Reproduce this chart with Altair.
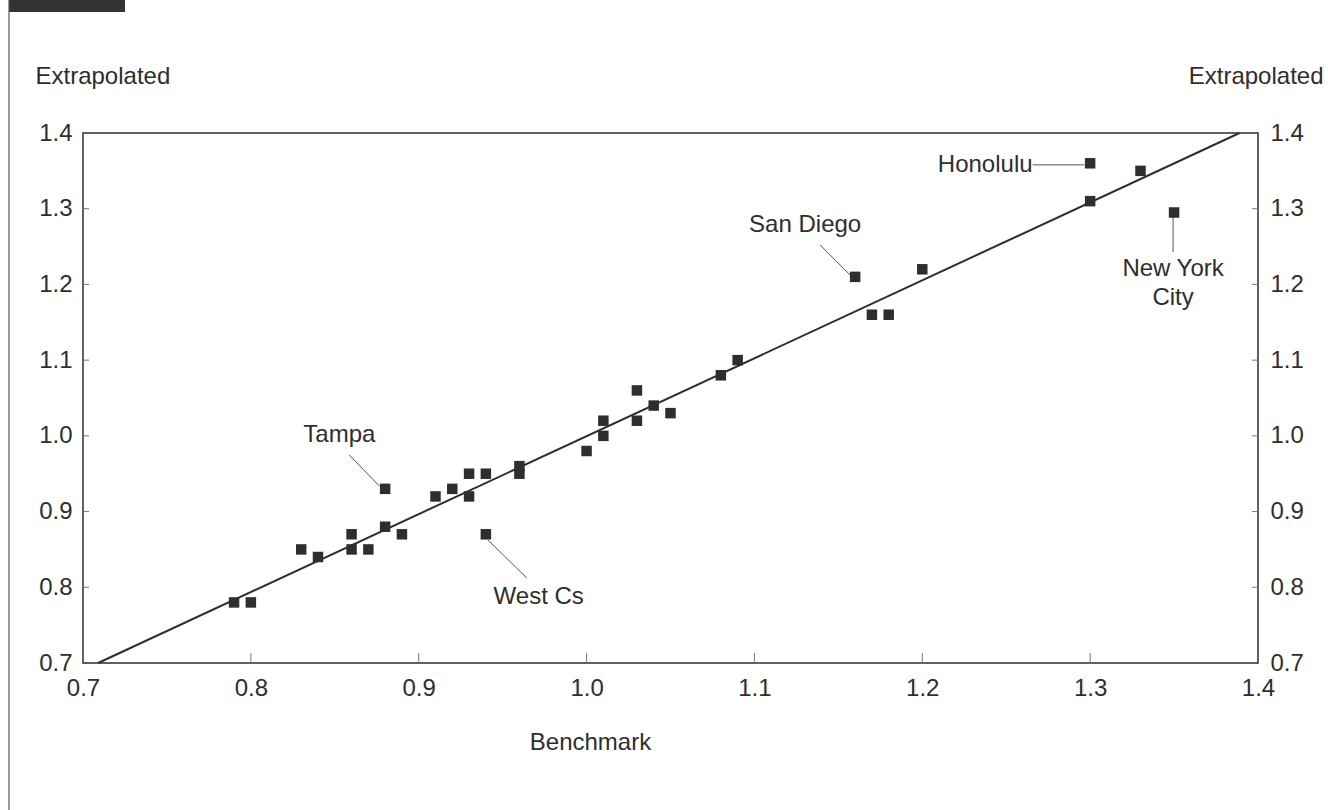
import altair as alt
import pandas as pd

# Data
benchmark = [0.79, 0.80, 0.83, 0.84, 0.86, 0.86, 0.87, 0.88, 0.88, 0.89, 0.91, 0.92,
             0.93, 0.93, 0.94, 0.94, 0.96, 0.96, 1.00, 1.01, 1.01, 1.03, 1.03, 1.04,
             1.05, 1.08, 1.09, 1.16, 1.17, 1.18, 1.20, 1.30, 1.30, 1.33, 1.35]
extrapolated = [0.78, 0.78, 0.85, 0.84, 0.87, 0.85, 0.85, 0.93, 0.88, 0.87, 0.92, 0.93,
                0.95, 0.92, 0.95, 0.87, 0.96, 0.95, 0.98, 1.02, 1.00, 1.06, 1.02, 1.04,
                1.03, 1.08, 1.10, 1.21, 1.16, 1.16, 1.22, 1.36, 1.31, 1.35, 1.295]

fit_x = [0.709, 1.389]
fit_y = [0.70, 1.40]

tick_values = [0.7, 0.8, 0.9, 1.0, 1.1, 1.2, 1.3, 1.4]
inner_ticks = [0.8, 0.9, 1.0, 1.1, 1.2, 1.3]

# Annotations (label text and leader lines, data units)
label_text = ["Tampa", "West Cs", "San Diego", "Honolulu", "New York", "City"]
label_x = [0.8527, 0.9715, 1.1302, 1.2657, 1.3494, 1.3494]
label_y = [1.0012, 0.7872, 1.2786, 1.358, 1.2205, 1.1822]
label_align = ["center", "center", "center", "right", "center", "center"]

leader_x1 = [0.8586, 0.9412, 1.1391, 1.2657, 1.3494]
leader_y1 = [0.9748, 0.8625, 1.2522, 1.3579, 1.2926]
leader_x2 = [0.8765, 0.9644, 1.1569, 1.2966, 1.3494]
leader_y2 = [0.9338, 0.8123, 1.2126, 1.3579, 1.2429]

W, H = 1175, 530
FONT = "Liberation Sans"
INK = "#2e2e2e"

xs = alt.Scale(domain=[0.7, 1.4], nice=False, zero=False)
ys = alt.Scale(domain=[0.7, 1.4], nice=False, zero=False)

pts = pd.DataFrame({"b": benchmark, "e": extrapolated})
fit = pd.DataFrame({"b": fit_x, "e": fit_y})
labels = pd.DataFrame({"t": label_text, "x": label_x, "y": label_y, "a": label_align})
leaders = pd.DataFrame({"x1": leader_x1, "y1": leader_y1, "x2": leader_x2, "y2": leader_y2})
ticks = pd.DataFrame({"v": inner_ticks})
one = pd.DataFrame({"a": [0]})

axis_common = dict(
    values=tick_values, format=".1f", ticks=False, domain=False, grid=False,
    labelFont=FONT, labelFontSize=24, labelColor=INK,
    titleFont=FONT, titleFontSize=24, titleFontWeight="normal", titleColor=INK,
)

x_axis = alt.Axis(
    title="Benchmark", orient="bottom", labelPadding=13, labelFlush=False,
    titleX=507, titleY=86, titleAlign="center", titleBaseline="alphabetic",
    **axis_common)

points = alt.Chart(pts).mark_square(size=110, color=INK, opacity=1).encode(
    x=alt.X("b:Q", scale=xs, axis=x_axis, title="Benchmark"),
    y=alt.Y("e:Q", scale=ys, axis=alt.Axis(
        title="Extrapolated", orient="left", labelPadding=11, labelFlush=False,
        titleAngle=0, titleAlign="left", titleBaseline="alphabetic",
        titleX=-48, titleY=-50, **axis_common)),
)

line = alt.Chart(fit).mark_line(color=INK, strokeWidth=2).encode(
    x=alt.X("b:Q", scale=xs, axis=x_axis, title="Benchmark"),
    y=alt.Y("e:Q", scale=ys, axis=alt.Axis(
        title="Extrapolated", orient="right", labelPadding=12, labelFlush=False,
        titleAngle=0, titleAlign="right", titleBaseline="alphabetic",
        titleX=65, titleY=-50, **axis_common)),
)

lead = alt.Chart(leaders).mark_rule(color="#555", strokeWidth=1).encode(
    x=alt.X("x1:Q", scale=xs, axis=x_axis, title="Benchmark"),
    y=alt.Y("y1:Q", scale=ys, axis=None),
    x2="x2:Q",
    y2="y2:Q",
)

text_c = alt.Chart(labels).transform_filter("datum.a == 'center'").mark_text(
    font=FONT, fontSize=24, color=INK, align="center", baseline="middle").encode(
    x=alt.X("x:Q", scale=xs, axis=x_axis, title="Benchmark"),
    y=alt.Y("y:Q", scale=ys, axis=None),
    text="t:N",
)
text_r = alt.Chart(labels).transform_filter("datum.a == 'right'").mark_text(
    font=FONT, fontSize=24, color=INK, align="right", baseline="middle").encode(
    x=alt.X("x:Q", scale=xs, axis=x_axis, title="Benchmark"),
    y=alt.Y("y:Q", scale=ys, axis=None),
    text="t:N",
)

tick_l = alt.Chart(ticks).mark_rule(color="#777", strokeWidth=1).encode(
    y=alt.Y("v:Q", scale=ys, axis=None), x=alt.value(0), x2=alt.value(6))
tick_r = alt.Chart(ticks).mark_rule(color="#777", strokeWidth=1).encode(
    y=alt.Y("v:Q", scale=ys, axis=None), x=alt.value(W - 6), x2=alt.value(W))
tick_b = alt.Chart(ticks).mark_rule(color="#777", strokeWidth=1).encode(
    x=alt.X("v:Q", scale=xs, axis=x_axis, title="Benchmark"),
    y=alt.value(H), y2=alt.value(H - 10))

# page decorations (scan frame)
bar = alt.Chart(one).mark_rect(color="#333").encode(
    x=alt.value(9 - 83), x2=alt.value(125 - 83), y=alt.value(-140), y2=alt.value(12 - 133))
frame = alt.Chart(one).mark_rule(color="#555", strokeWidth=1.2).encode(
    x=alt.value(9 - 83), y=alt.value(-133), y2=alt.value(810 - 133))

chart = alt.layer(
    bar, frame, tick_l, tick_r, tick_b, line, lead, points, text_c, text_r
).resolve_scale(y="independent").properties(
    width=W, height=H,
    autosize=alt.AutoSizeParams(type="none"),
    padding={"left": 83, "top": 133, "right": 70, "bottom": 147},
    background="white",
).configure_view(stroke=INK, strokeWidth=1.5)

chart.save("out.html", embed_options={"renderer": "svg", "actions": False})
